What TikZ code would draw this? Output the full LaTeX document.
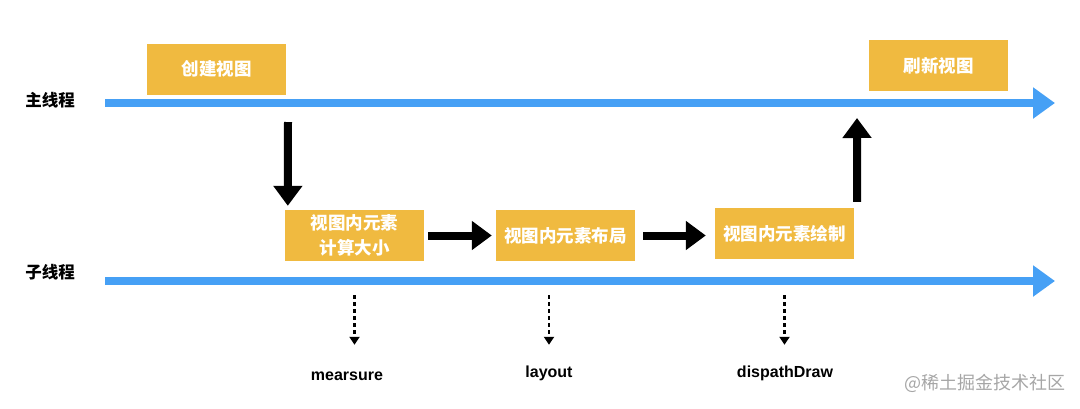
\documentclass[tikz,border=0pt]{standalone}
\usepackage{fontspec}
\setmainfont{Liberation Sans}
\newfontfamily\cjk{Noto Sans CJK SC}
\usetikzlibrary{arrows.meta,positioning}
\definecolor{stageyellow}{RGB}{240,186,64}
\definecolor{threadblue}{RGB}{70,160,245}

\begin{document}
\begin{tikzpicture}[
    x=1pt, y=-1pt,
    stage/.style={rectangle, fill=stageyellow, text=white, minimum width=139pt, minimum height=51pt, inner sep=0pt, align=center, font=\cjk\bfseries\fontsize{17.5}{25}\selectfont},
    thread/.style={line width=8pt, draw=threadblue, -{Triangle[width=30pt,length=22pt]}},
    flow/.style={line width=8pt, -{Triangle[width=28pt,length=20pt]}},
    call/.style={line width=2.6pt, dash pattern=on 4pt off 3pt, -{Triangle[width=10pt,length=8pt]}},
    tag/.style={font=\cjk\bfseries\fontsize{16.5}{16.5}\selectfont},
    method/.style={font=\bfseries\fontsize{16}{16}\selectfont, inner sep=0pt, text height=12pt, text depth=3pt, anchor=base}
]
\useasboundingbox (0,0) rectangle (1080,408);

% Threads
\node[tag] (mainlabel) at (50,100) {主线程};
\node[tag] (sublabel) at (50,272) {子线程};
\coordinate (mainstart) at (105,103);
\coordinate (mainend) at (1055,103);
\coordinate (substart) at (105,281);
\coordinate (subend) at (1055,281);
\draw[thread] (mainstart) -- (mainend);
\draw[thread] (substart) -- (subend);

% Stages
\node[stage] (create) at (216.5,69) {创建视图};
\node[stage] (refresh) at (938.5,65.5) {刷新视图};
\node[stage] (measure) at (354.5,235.5) {视图内元素\\计算大小};
\node[stage] (layoutbox) at (565.5,235.5) {视图内元素布局};
\node[stage] (drawbox) at (784.5,233.5) {视图内元素绘制};

% Methods
\node[method] (mearsure) at (347,380) {mearsure};
\node[method] (layout) at (549,377) {layout};
\node[method] (dispath) at (785,377) {dispathDraw};

% Arrows
\coordinate (spawn) at (288,122);
\coordinate (back) at (857,118);
\draw[flow] (spawn) -- ([xshift=3pt,yshift=4pt]measure.north west);
\draw[flow] ([xshift=4pt]measure.east) -- ([xshift=-4pt]layoutbox.west);
\draw[flow] ([xshift=8pt]layoutbox.east) -- ([xshift=-9pt]layoutbox.east -| drawbox.west);
\draw[flow] ([xshift=3pt,yshift=6pt]drawbox.north east) -- (back);
\draw[call] ([yshift=-34pt]measure.south) -- ([yshift=23pt]measure.south |- mearsure.north);
\draw[call] ([yshift=-34pt]layout.north |- layoutbox.south) -- ([yshift=20pt]layout.north);
\draw[call] ([yshift=-36pt]drawbox.south) -- ([yshift=20pt]drawbox.south |- dispath.north);

\node[font=\cjk\fontsize{18}{18}\selectfont, text=black!35] (mark) at (985,383) {@稀土掘金技术社区};
\end{tikzpicture}
\end{document}
